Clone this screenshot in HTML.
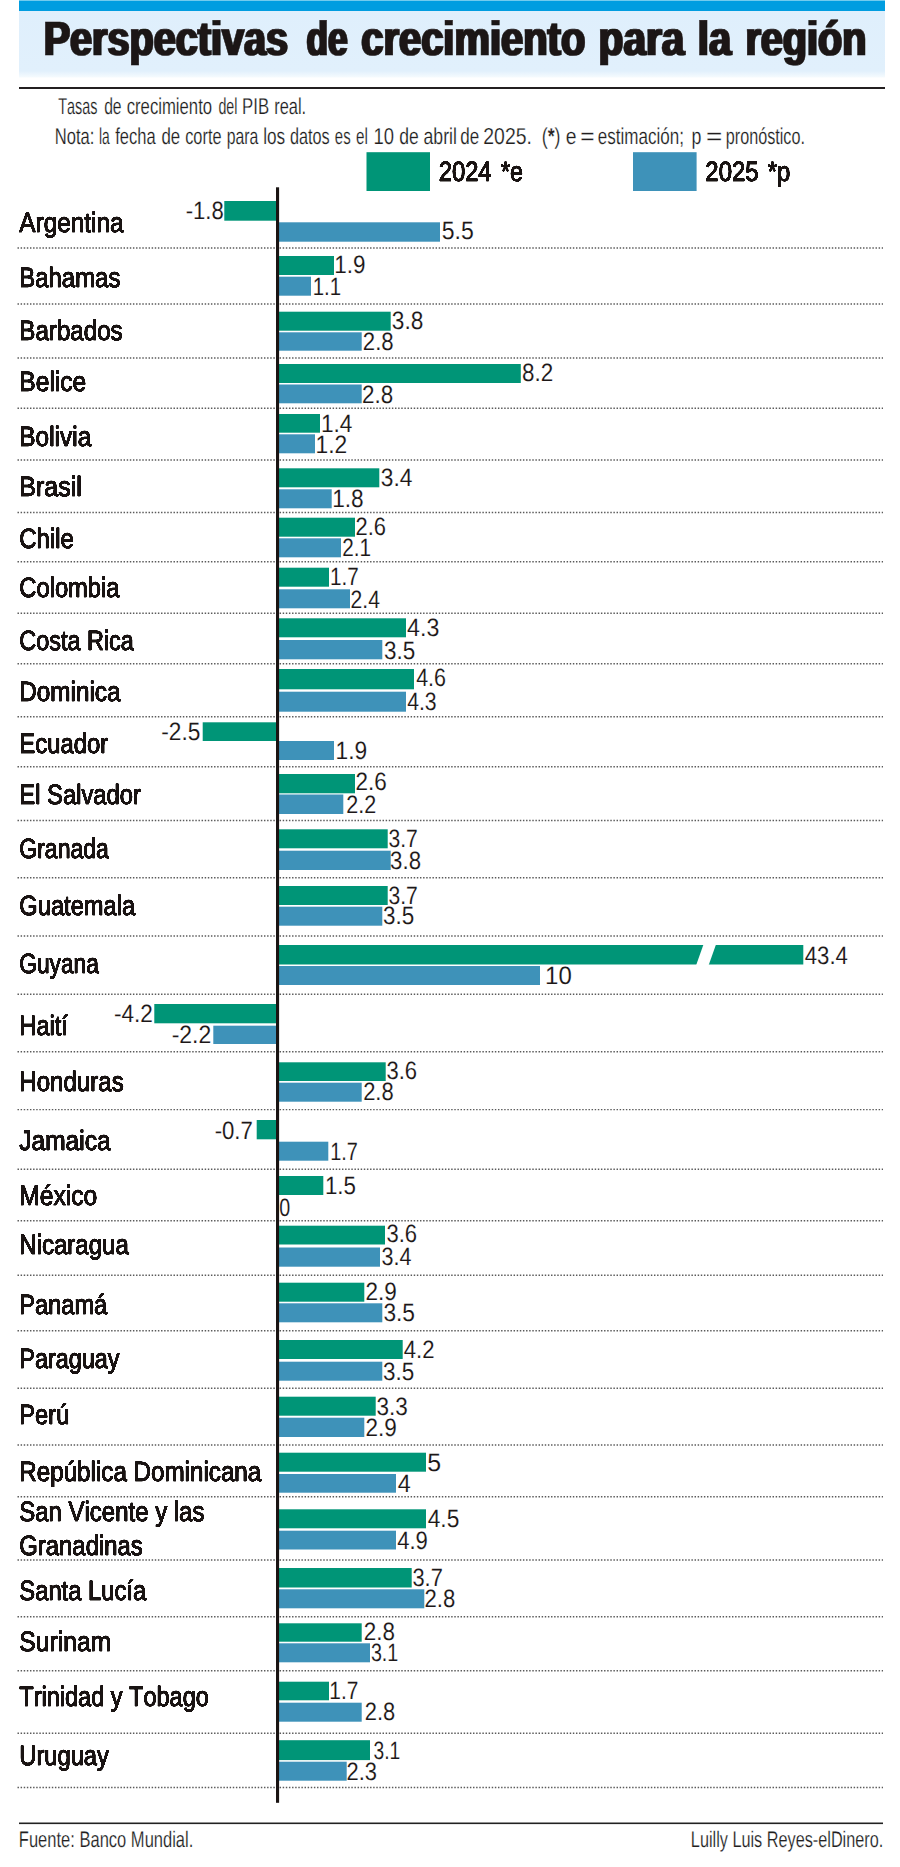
<!DOCTYPE html>
<html lang="es"><head><meta charset="utf-8"><title>Perspectivas de crecimiento para la región</title>
<style>
html,body{margin:0;padding:0;background:#fff}
svg{display:block}
text{font-family:"Liberation Sans",sans-serif;text-rendering:geometricPrecision;fill:#1a1413;font-kerning:none;white-space:pre}
.title{font-size:48px;font-weight:bold;stroke:#1a1413;stroke-width:0.6px;stroke-linejoin:miter;stroke-miterlimit:3}
.sub{font-size:23px;fill:#221e1e;stroke:#fff;stroke-width:0.2px}
.foot{font-size:22.5px}
.ast{font-weight:bold}
.lab{font-size:27.8px;stroke:#1a1413;stroke-width:0.6px}
.val{font-size:25px;fill:#1c1717;stroke:#fff;stroke-width:0.1px}
.sep{stroke:#5a5a5a;stroke-width:1.4;stroke-dasharray:1.45 1.67}
</style></head><body>
<svg width="900" height="1867" viewBox="0 0 900 1867">
<rect width="900" height="1867" fill="#fff"/>
<defs><filter id="hx" x="-2%" y="-10%" width="104%" height="120%"><feMorphology operator="dilate" radius="1 0"/></filter><filter id="sm" filterUnits="userSpaceOnUse" x="0" y="140" width="900" height="1700" color-interpolation-filters="sRGB"><feGaussianBlur stdDeviation="0.7 0"/><feComponentTransfer><feFuncA type="linear" slope="3" intercept="-0.25"/></feComponentTransfer></filter><linearGradient id="hb" x1="0" y1="0" x2="0" y2="1"><stop offset="0" stop-color="#dfeffc"/><stop offset="0.9" stop-color="#e1f0fc"/><stop offset="1" stop-color="#f6fbfe"/></linearGradient></defs>
<rect x="19" y="10" width="866" height="67.5" fill="url(#hb)"/>
<rect x="19" y="0" width="866" height="11" fill="#009de0"/>
<rect x="19" y="0" width="866" height="0.8" fill="#8fd8f2"/>
<rect x="19" y="87" width="866" height="2" fill="#231f20"/>
<text class="title" filter="url(#hx)" y="55.4"><tspan x="43.65" textLength="244.37" lengthAdjust="spacingAndGlyphs">Perspectivas</tspan> <tspan x="306.55" textLength="41.15" lengthAdjust="spacingAndGlyphs">de</tspan> <tspan x="361.24" textLength="224.02" lengthAdjust="spacingAndGlyphs">crecimiento</tspan> <tspan x="598.62" textLength="85.82" lengthAdjust="spacingAndGlyphs">para</tspan> <tspan x="697.81" textLength="33.34" lengthAdjust="spacingAndGlyphs">la</tspan> <tspan x="745.39" textLength="121.07" lengthAdjust="spacingAndGlyphs">región</tspan></text>
<text class="sub" y="113.8"><tspan x="58.28" textLength="39.14" lengthAdjust="spacingAndGlyphs">Tasas</tspan> <tspan x="104.14" textLength="17.46" lengthAdjust="spacingAndGlyphs">de</tspan> <tspan x="126.69" textLength="85.41" lengthAdjust="spacingAndGlyphs">crecimiento</tspan> <tspan x="218.40" textLength="19.05" lengthAdjust="spacingAndGlyphs">del</tspan> <tspan x="242.12" textLength="27.06" lengthAdjust="spacingAndGlyphs">PIB</tspan> <tspan x="274.21" textLength="31.99" lengthAdjust="spacingAndGlyphs">real.</tspan></text>
<text class="sub" y="143.9"><tspan x="54.74" textLength="39.57" lengthAdjust="spacingAndGlyphs">Nota:</tspan> <tspan x="98.97" textLength="10.73" lengthAdjust="spacingAndGlyphs">la</tspan> <tspan x="115.27" textLength="40.43" lengthAdjust="spacingAndGlyphs">fecha</tspan> <tspan x="161.39" textLength="18.76" lengthAdjust="spacingAndGlyphs">de</tspan> <tspan x="185.21" textLength="36.32" lengthAdjust="spacingAndGlyphs">corte</tspan> <tspan x="226.68" textLength="31.62" lengthAdjust="spacingAndGlyphs">para</tspan> <tspan x="263.14" textLength="21.98" lengthAdjust="spacingAndGlyphs">los</tspan> <tspan x="289.92" textLength="39.67" lengthAdjust="spacingAndGlyphs">datos</tspan> <tspan x="334.87" textLength="15.77" lengthAdjust="spacingAndGlyphs">es</tspan> <tspan x="355.95" textLength="11.87" lengthAdjust="spacingAndGlyphs">el</tspan> <tspan x="373.59" textLength="20.53" lengthAdjust="spacingAndGlyphs">10</tspan> <tspan x="399.16" textLength="19.52" lengthAdjust="spacingAndGlyphs">de</tspan> <tspan x="423.55" textLength="33.33" lengthAdjust="spacingAndGlyphs">abril</tspan> <tspan x="460.28" textLength="18.97" lengthAdjust="spacingAndGlyphs">de</tspan> <tspan x="483.32" textLength="48.55" lengthAdjust="spacingAndGlyphs">2025.</tspan> <tspan x="541.69" textLength="18.81" lengthAdjust="spacingAndGlyphs">(<tspan class="ast">*</tspan>)</tspan> <tspan x="565.78" textLength="10.79" lengthAdjust="spacingAndGlyphs">e</tspan> <tspan x="580.30" textLength="14.30" lengthAdjust="spacingAndGlyphs">=</tspan> <tspan x="597.78" textLength="86.26" lengthAdjust="spacingAndGlyphs">estimación;</tspan> <tspan x="691.45" textLength="9.89" lengthAdjust="spacingAndGlyphs">p</tspan> <tspan x="705.93" textLength="16.35" lengthAdjust="spacingAndGlyphs">=</tspan> <tspan x="725.76" textLength="79.22" lengthAdjust="spacingAndGlyphs">pronóstico.</tspan></text>
<rect x="366.5" y="152.2" width="63.5" height="38.8" fill="#009577"/>
<rect x="633" y="152.2" width="63.6" height="38.8" fill="#3e92b9"/>
<line class="sep" x1="17.5" y1="248" x2="883" y2="248"/>
<line class="sep" x1="17.5" y1="304" x2="883" y2="304"/>
<line class="sep" x1="17.5" y1="358" x2="883" y2="358"/>
<line class="sep" x1="17.5" y1="408.3" x2="883" y2="408.3"/>
<line class="sep" x1="17.5" y1="460" x2="883" y2="460"/>
<line class="sep" x1="17.5" y1="512.5" x2="883" y2="512.5"/>
<line class="sep" x1="17.5" y1="561.7" x2="883" y2="561.7"/>
<line class="sep" x1="17.5" y1="613.3" x2="883" y2="613.3"/>
<line class="sep" x1="17.5" y1="663.8" x2="883" y2="663.8"/>
<line class="sep" x1="17.5" y1="716.7" x2="883" y2="716.7"/>
<line class="sep" x1="17.5" y1="766.7" x2="883" y2="766.7"/>
<line class="sep" x1="17.5" y1="820.5" x2="883" y2="820.5"/>
<line class="sep" x1="17.5" y1="877.7" x2="883" y2="877.7"/>
<line class="sep" x1="17.5" y1="936" x2="883" y2="936"/>
<line class="sep" x1="17.5" y1="994.2" x2="883" y2="994.2"/>
<line class="sep" x1="17.5" y1="1051.7" x2="883" y2="1051.7"/>
<line class="sep" x1="17.5" y1="1109.6" x2="883" y2="1109.6"/>
<line class="sep" x1="17.5" y1="1169.3" x2="883" y2="1169.3"/>
<line class="sep" x1="17.5" y1="1220.7" x2="883" y2="1220.7"/>
<line class="sep" x1="17.5" y1="1275.3" x2="883" y2="1275.3"/>
<line class="sep" x1="17.5" y1="1330.7" x2="883" y2="1330.7"/>
<line class="sep" x1="17.5" y1="1388.3" x2="883" y2="1388.3"/>
<line class="sep" x1="17.5" y1="1445" x2="883" y2="1445"/>
<line class="sep" x1="17.5" y1="1496.7" x2="883" y2="1496.7"/>
<line class="sep" x1="17.5" y1="1560" x2="883" y2="1560"/>
<line class="sep" x1="17.5" y1="1616.7" x2="883" y2="1616.7"/>
<line class="sep" x1="17.5" y1="1670.7" x2="883" y2="1670.7"/>
<line class="sep" x1="17.5" y1="1733.3" x2="883" y2="1733.3"/>
<line class="sep" x1="17.5" y1="1787.5" x2="883" y2="1787.5"/>
<rect x="224.3" y="201.0" width="52.7" height="19.7" fill="#009577"/>
<rect x="277.0" y="222.3" width="163.0" height="19.4" fill="#3e92b9"/>
<rect x="277.0" y="256.0" width="57.0" height="19.0" fill="#009577"/>
<rect x="277.0" y="276.7" width="34.0" height="19.0" fill="#3e92b9"/>
<rect x="277.0" y="311.7" width="113.7" height="19.0" fill="#009577"/>
<rect x="277.0" y="332.3" width="84.7" height="18.4" fill="#3e92b9"/>
<rect x="277.0" y="364.0" width="243.8" height="19.0" fill="#009577"/>
<rect x="277.0" y="384.5" width="84.7" height="18.8" fill="#3e92b9"/>
<rect x="277.0" y="414.0" width="43.0" height="18.7" fill="#009577"/>
<rect x="277.0" y="434.3" width="38.0" height="19.0" fill="#3e92b9"/>
<rect x="277.0" y="468.3" width="102.3" height="19.0" fill="#009577"/>
<rect x="277.0" y="489.3" width="54.7" height="19.0" fill="#3e92b9"/>
<rect x="277.0" y="517.7" width="78.0" height="19.0" fill="#009577"/>
<rect x="277.0" y="538.3" width="64.0" height="19.0" fill="#3e92b9"/>
<rect x="277.0" y="567.7" width="52.0" height="19.0" fill="#009577"/>
<rect x="277.0" y="589.3" width="73.0" height="19.0" fill="#3e92b9"/>
<rect x="277.0" y="618.3" width="129.0" height="19.0" fill="#009577"/>
<rect x="277.0" y="640.0" width="105.3" height="19.3" fill="#3e92b9"/>
<rect x="277.0" y="669.0" width="137.0" height="20.3" fill="#009577"/>
<rect x="277.0" y="691.7" width="129.0" height="20.0" fill="#3e92b9"/>
<rect x="202.7" y="722.3" width="74.3" height="18.7" fill="#009577"/>
<rect x="277.0" y="741.0" width="57.0" height="19.0" fill="#3e92b9"/>
<rect x="277.0" y="774.0" width="78.0" height="19.3" fill="#009577"/>
<rect x="277.0" y="794.5" width="66.3" height="19.5" fill="#3e92b9"/>
<rect x="277.0" y="829.3" width="110.7" height="19.0" fill="#009577"/>
<rect x="277.0" y="850.7" width="113.7" height="19.3" fill="#3e92b9"/>
<rect x="277.0" y="886.0" width="110.7" height="19.0" fill="#009577"/>
<rect x="277.0" y="906.7" width="105.3" height="19.0" fill="#3e92b9"/>
<rect x="277.0" y="945.0" width="526.3" height="19.5" fill="#009577"/>
<rect x="277.0" y="966.0" width="263.0" height="19.0" fill="#3e92b9"/>
<rect x="154.3" y="1004.0" width="122.7" height="19.3" fill="#009577"/>
<rect x="213.3" y="1025.7" width="63.7" height="18.3" fill="#3e92b9"/>
<rect x="277.0" y="1062.3" width="108.7" height="18.7" fill="#009577"/>
<rect x="277.0" y="1082.7" width="84.7" height="19.0" fill="#3e92b9"/>
<rect x="256.7" y="1120.0" width="20.3" height="19.3" fill="#009577"/>
<rect x="277.0" y="1141.7" width="51.3" height="19.0" fill="#3e92b9"/>
<rect x="277.0" y="1176.0" width="46.3" height="19.0" fill="#009577"/>
<rect x="277.0" y="1225.7" width="108.0" height="18.8" fill="#009577"/>
<rect x="277.0" y="1247.5" width="103.0" height="19.2" fill="#3e92b9"/>
<rect x="277.0" y="1282.7" width="87.3" height="19.0" fill="#009577"/>
<rect x="277.0" y="1303.3" width="105.3" height="19.0" fill="#3e92b9"/>
<rect x="277.0" y="1340.0" width="125.7" height="19.0" fill="#009577"/>
<rect x="277.0" y="1361.7" width="105.3" height="19.0" fill="#3e92b9"/>
<rect x="277.0" y="1396.7" width="98.7" height="19.0" fill="#009577"/>
<rect x="277.0" y="1417.7" width="87.3" height="19.3" fill="#3e92b9"/>
<rect x="277.0" y="1452.7" width="149.0" height="19.0" fill="#009577"/>
<rect x="277.0" y="1474.0" width="119.0" height="18.7" fill="#3e92b9"/>
<rect x="277.0" y="1509.3" width="149.0" height="19.0" fill="#009577"/>
<rect x="277.0" y="1530.7" width="119.0" height="18.8" fill="#3e92b9"/>
<rect x="277.0" y="1568.0" width="134.7" height="19.5" fill="#009577"/>
<rect x="277.0" y="1589.3" width="147.3" height="19.0" fill="#3e92b9"/>
<rect x="277.0" y="1623.3" width="84.7" height="18.4" fill="#009577"/>
<rect x="277.0" y="1643.3" width="93.0" height="19.0" fill="#3e92b9"/>
<rect x="277.0" y="1681.7" width="52.0" height="18.6" fill="#009577"/>
<rect x="277.0" y="1702.7" width="84.7" height="19.0" fill="#3e92b9"/>
<rect x="277.0" y="1740.2" width="93.0" height="19.9" fill="#009577"/>
<rect x="277.0" y="1761.7" width="69.7" height="19.0" fill="#3e92b9"/>
<rect transform="translate(704,943) skewX(-19.5)" x="0" y="0" width="12.5" height="24" fill="#fff"/>
<rect x="276" y="187.3" width="3.1" height="1615.5" fill="#1a1413"/>
<text class="val" x="185.67" y="218.6" textLength="38.04" lengthAdjust="spacingAndGlyphs">-1.8</text>
<text class="val" x="441.73" y="238.6" textLength="31.99" lengthAdjust="spacingAndGlyphs">5.5</text>
<text class="val" x="334.24" y="272.6" textLength="31.17" lengthAdjust="spacingAndGlyphs">1.9</text>
<text class="val" x="312.70" y="295.2" textLength="28.35" lengthAdjust="spacingAndGlyphs">1.1</text>
<text class="val" x="391.79" y="328.6" textLength="31.55" lengthAdjust="spacingAndGlyphs">3.8</text>
<text class="val" x="362.83" y="350.2" textLength="30.88" lengthAdjust="spacingAndGlyphs">2.8</text>
<text class="val" x="521.97" y="381.2" textLength="31.20" lengthAdjust="spacingAndGlyphs">8.2</text>
<text class="val" x="362.12" y="402.9" textLength="31.20" lengthAdjust="spacingAndGlyphs">2.8</text>
<text class="val" x="320.92" y="431.9" textLength="31.49" lengthAdjust="spacingAndGlyphs">1.4</text>
<text class="val" x="315.51" y="452.9" textLength="31.68" lengthAdjust="spacingAndGlyphs">1.2</text>
<text class="val" x="380.78" y="486.2" textLength="31.63" lengthAdjust="spacingAndGlyphs">3.4</text>
<text class="val" x="332.22" y="506.9" textLength="31.51" lengthAdjust="spacingAndGlyphs">1.8</text>
<text class="val" x="355.55" y="535.2" textLength="30.47" lengthAdjust="spacingAndGlyphs">2.6</text>
<text class="val" x="342.21" y="556.2" textLength="28.86" lengthAdjust="spacingAndGlyphs">2.1</text>
<text class="val" x="330.08" y="585.2" textLength="28.71" lengthAdjust="spacingAndGlyphs">1.7</text>
<text class="val" x="350.59" y="608.0" textLength="29.38" lengthAdjust="spacingAndGlyphs">2.4</text>
<text class="val" x="407.12" y="636.2" textLength="32.25" lengthAdjust="spacingAndGlyphs">4.3</text>
<text class="val" x="384.10" y="658.5" textLength="31.20" lengthAdjust="spacingAndGlyphs">3.5</text>
<text class="val" x="416.16" y="686.2" textLength="29.84" lengthAdjust="spacingAndGlyphs">4.6</text>
<text class="val" x="407.16" y="709.5" textLength="29.52" lengthAdjust="spacingAndGlyphs">4.3</text>
<text class="val" x="161.24" y="740.2" textLength="39.06" lengthAdjust="spacingAndGlyphs">-2.5</text>
<text class="val" x="335.52" y="759.2" textLength="31.61" lengthAdjust="spacingAndGlyphs">1.9</text>
<text class="val" x="355.52" y="790.2" textLength="31.22" lengthAdjust="spacingAndGlyphs">2.6</text>
<text class="val" x="346.17" y="812.5" textLength="29.97" lengthAdjust="spacingAndGlyphs">2.2</text>
<text class="val" x="388.45" y="847.0" textLength="29.37" lengthAdjust="spacingAndGlyphs">3.7</text>
<text class="val" x="390.10" y="868.5" textLength="30.91" lengthAdjust="spacingAndGlyphs">3.8</text>
<text class="val" x="388.45" y="903.5" textLength="29.37" lengthAdjust="spacingAndGlyphs">3.7</text>
<text class="val" x="383.10" y="923.5" textLength="31.20" lengthAdjust="spacingAndGlyphs">3.5</text>
<text class="val" x="804.74" y="963.6" textLength="43.16" lengthAdjust="spacingAndGlyphs">43.4</text>
<text class="val" x="545.12" y="983.5" textLength="26.66" lengthAdjust="spacingAndGlyphs">10</text>
<text class="val" x="113.95" y="1022.0" textLength="38.94" lengthAdjust="spacingAndGlyphs">-4.2</text>
<text class="val" x="171.63" y="1043.0" textLength="39.58" lengthAdjust="spacingAndGlyphs">-2.2</text>
<text class="val" x="386.41" y="1079.2" textLength="30.61" lengthAdjust="spacingAndGlyphs">3.6</text>
<text class="val" x="363.14" y="1099.5" textLength="30.56" lengthAdjust="spacingAndGlyphs">2.8</text>
<text class="val" x="214.66" y="1138.5" textLength="38.20" lengthAdjust="spacingAndGlyphs">-0.7</text>
<text class="val" x="330.14" y="1159.5" textLength="27.61" lengthAdjust="spacingAndGlyphs">1.7</text>
<text class="val" x="324.95" y="1193.5" textLength="31.04" lengthAdjust="spacingAndGlyphs">1.5</text>
<text class="val" x="279.18" y="1216.2" textLength="10.94" lengthAdjust="spacingAndGlyphs">0</text>
<text class="val" x="386.41" y="1242.0" textLength="30.61" lengthAdjust="spacingAndGlyphs">3.6</text>
<text class="val" x="381.43" y="1265.2" textLength="29.95" lengthAdjust="spacingAndGlyphs">3.4</text>
<text class="val" x="365.52" y="1300.2" textLength="31.30" lengthAdjust="spacingAndGlyphs">2.9</text>
<text class="val" x="383.38" y="1321.2" textLength="31.62" lengthAdjust="spacingAndGlyphs">3.5</text>
<text class="val" x="403.74" y="1358.0" textLength="30.72" lengthAdjust="spacingAndGlyphs">4.2</text>
<text class="val" x="383.10" y="1379.5" textLength="31.20" lengthAdjust="spacingAndGlyphs">3.5</text>
<text class="val" x="376.39" y="1414.5" textLength="31.35" lengthAdjust="spacingAndGlyphs">3.3</text>
<text class="val" x="365.52" y="1436.0" textLength="31.30" lengthAdjust="spacingAndGlyphs">2.9</text>
<text class="val" x="427.25" y="1471.0" textLength="13.84" lengthAdjust="spacingAndGlyphs">5</text>
<text class="val" x="397.71" y="1492.0" textLength="13.02" lengthAdjust="spacingAndGlyphs">4</text>
<text class="val" x="427.73" y="1527.0" textLength="31.58" lengthAdjust="spacingAndGlyphs">4.5</text>
<text class="val" x="397.14" y="1548.5" textLength="30.65" lengthAdjust="spacingAndGlyphs">4.9</text>
<text class="val" x="412.42" y="1586.2" textLength="30.43" lengthAdjust="spacingAndGlyphs">3.7</text>
<text class="val" x="424.54" y="1607.0" textLength="30.78" lengthAdjust="spacingAndGlyphs">2.8</text>
<text class="val" x="363.82" y="1640.2" textLength="31.20" lengthAdjust="spacingAndGlyphs">2.8</text>
<text class="val" x="370.90" y="1661.0" textLength="27.41" lengthAdjust="spacingAndGlyphs">3.1</text>
<text class="val" x="329.36" y="1699.2" textLength="29.04" lengthAdjust="spacingAndGlyphs">1.7</text>
<text class="val" x="364.85" y="1720.2" textLength="30.45" lengthAdjust="spacingAndGlyphs">2.8</text>
<text class="val" x="373.52" y="1758.5" textLength="26.77" lengthAdjust="spacingAndGlyphs">3.1</text>
<text class="val" x="346.55" y="1780.2" textLength="30.47" lengthAdjust="spacingAndGlyphs">2.3</text>
<g filter="url(#sm)"><text class="lab" y="180.6"><tspan x="438.68" textLength="52.94" lengthAdjust="spacingAndGlyphs">2024</tspan> <tspan x="501.00" textLength="22.06" lengthAdjust="spacingAndGlyphs">*e</tspan></text>
<text class="lab" y="180.6"><tspan x="705.37" textLength="53.26" lengthAdjust="spacingAndGlyphs">2025</tspan> <tspan x="767.69" textLength="22.54" lengthAdjust="spacingAndGlyphs">*p</tspan></text>
<text class="lab" x="19.30" y="232.0" textLength="104.22" lengthAdjust="spacingAndGlyphs">Argentina</text>
<text class="lab" x="19.30" y="287.0" textLength="101.09" lengthAdjust="spacingAndGlyphs">Bahamas</text>
<text class="lab" x="19.30" y="339.6" textLength="103.40" lengthAdjust="spacingAndGlyphs">Barbados</text>
<text class="lab" x="19.30" y="391.0" textLength="67.02" lengthAdjust="spacingAndGlyphs">Belice</text>
<text class="lab" x="19.30" y="446.0" textLength="71.92" lengthAdjust="spacingAndGlyphs">Bolivia</text>
<text class="lab" x="19.30" y="496.0" textLength="62.60" lengthAdjust="spacingAndGlyphs">Brasil</text>
<text class="lab" x="19.30" y="547.6" textLength="54.59" lengthAdjust="spacingAndGlyphs">Chile</text>
<text class="lab" x="19.30" y="597.0" textLength="100.22" lengthAdjust="spacingAndGlyphs">Colombia</text>
<text class="lab" x="19.30" y="650.3" textLength="114.53" lengthAdjust="spacingAndGlyphs">Costa Rica</text>
<text class="lab" x="19.30" y="701.0" textLength="101.22" lengthAdjust="spacingAndGlyphs">Dominica</text>
<text class="lab" x="19.30" y="753.0" textLength="88.92" lengthAdjust="spacingAndGlyphs">Ecuador</text>
<text class="lab" x="19.30" y="803.6" textLength="121.62" lengthAdjust="spacingAndGlyphs">El Salvador</text>
<text class="lab" x="19.30" y="857.6" textLength="89.52" lengthAdjust="spacingAndGlyphs">Granada</text>
<text class="lab" x="19.30" y="915.3" textLength="115.92" lengthAdjust="spacingAndGlyphs">Guatemala</text>
<text class="lab" x="19.30" y="972.6" textLength="79.52" lengthAdjust="spacingAndGlyphs">Guyana</text>
<text class="lab" x="19.30" y="1035.3" textLength="48.64" lengthAdjust="spacingAndGlyphs">Haití</text>
<text class="lab" x="19.30" y="1091.0" textLength="104.39" lengthAdjust="spacingAndGlyphs">Honduras</text>
<text class="lab" x="19.30" y="1150.3" textLength="91.22" lengthAdjust="spacingAndGlyphs">Jamaica</text>
<text class="lab" x="19.30" y="1205.3" textLength="77.96" lengthAdjust="spacingAndGlyphs">México</text>
<text class="lab" x="19.30" y="1254.3" textLength="109.53" lengthAdjust="spacingAndGlyphs">Nicaragua</text>
<text class="lab" x="19.30" y="1313.6" textLength="87.92" lengthAdjust="spacingAndGlyphs">Panamá</text>
<text class="lab" x="19.30" y="1368.0" textLength="100.27" lengthAdjust="spacingAndGlyphs">Paraguay</text>
<text class="lab" x="19.30" y="1424.3" textLength="50.03" lengthAdjust="spacingAndGlyphs">Perú</text>
<text class="lab" x="19.30" y="1481.0" textLength="241.93" lengthAdjust="spacingAndGlyphs">República Dominicana</text>
<text class="lab" x="19.30" y="1521.0" textLength="185.09" lengthAdjust="spacingAndGlyphs">San Vicente y las</text>
<text class="lab" x="19.30" y="1555.3" textLength="123.39" lengthAdjust="spacingAndGlyphs">Granadinas</text>
<text class="lab" x="19.30" y="1599.6" textLength="126.92" lengthAdjust="spacingAndGlyphs">Santa Lucía</text>
<text class="lab" x="19.30" y="1651.3" textLength="91.85" lengthAdjust="spacingAndGlyphs">Surinam</text>
<text class="lab" x="19.30" y="1706.0" textLength="189.51" lengthAdjust="spacingAndGlyphs">Trinidad y Tobago</text>
<text class="lab" x="19.30" y="1765.3" textLength="89.57" lengthAdjust="spacingAndGlyphs">Uruguay</text></g>
<rect x="19" y="1822.5" width="864" height="1.6" fill="#222"/>
<text class="sub foot" x="18.85" y="1847.2" textLength="174.46" lengthAdjust="spacingAndGlyphs">Fuente: Banco Mundial.</text>
<text class="sub foot" x="690.87" y="1847.2" textLength="192.42" lengthAdjust="spacingAndGlyphs">Luilly Luis Reyes-elDinero.</text>
</svg>
</body></html>
